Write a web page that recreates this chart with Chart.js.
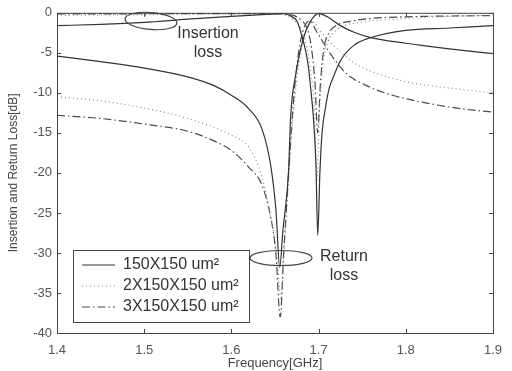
<!DOCTYPE html>
<html>
<head>
<meta charset="utf-8">
<script src="https://cdn.jsdelivr.net/npm/chart.js@4"></script>
<style>
  html, body { margin: 0; background: #fff; }
  #wrap { width: 512px; height: 371px; }
</style>
</head>
<body>
<div id="wrap"><canvas id="myChart"></canvas></div>
<script>
// legend names
var seriesNames = ["150X150 um²", "2X150X150 um²", "3X150X150 um²"];
var xTicks = [1.4, 1.5, 1.6, 1.7, 1.8, 1.9];
var yTicks = [0, -5, -10, -15, -20, -25, -30, -35, -40];

// 150X150 : curve with dip near 1.655 GHz
var freqA1 = [1.40, 1.45, 1.50, 1.55, 1.58, 1.60, 1.62, 1.635, 1.645, 1.651, 1.6555, 1.659, 1.6655, 1.668, 1.674, 1.682, 1.69, 1.70, 1.71, 1.725, 1.74, 1.76, 1.80, 1.82, 1.85, 1.90];
var lossA1 = [-5.4, -6.1, -6.9, -8.0, -9.1, -10.3, -12.0, -14.5, -19.0, -24.5, -31.8, -27.3, -19.9, -12.9, -7.6, -3.4, -1.2, -0.1, -0.5, -1.6, -2.4, -3.1, -3.8, -4.1, -4.5, -5.1];
// 150X150 : curve with dip near 1.70 GHz
var freqB1 = [1.40, 1.45, 1.50, 1.55, 1.60, 1.64, 1.66, 1.668, 1.676, 1.68, 1.684, 1.688, 1.691, 1.694, 1.697, 1.699, 1.7015, 1.704, 1.708, 1.712, 1.717, 1.725, 1.74, 1.76, 1.80, 1.85, 1.90];
var lossB1 = [-1.6, -1.45, -1.2, -0.8, -0.45, -0.2, -0.1, -0.4, -1.2, -2.6, -4.2, -6.5, -9.5, -13, -19, -27.8, -20, -15, -11.8, -9.5, -8.0, -6.0, -4.1, -3.1, -2.2, -1.9, -1.6];

// 2X150X150
var freqA2 = [1.40, 1.45, 1.50, 1.55, 1.60, 1.62, 1.635, 1.645, 1.652, 1.657, 1.661, 1.665, 1.67, 1.676, 1.682, 1.689, 1.695, 1.70, 1.71, 1.72, 1.74, 1.76, 1.80, 1.85, 1.90];
var lossA2 = [-10.5, -11.0, -11.9, -13.2, -15.3, -16.8, -20.5, -25.5, -30, -35.8, -29, -22, -14, -7.5, -3.5, -1.4, -1.2, -2.0, -3.3, -4.4, -6.2, -7.3, -8.6, -9.4, -10.0];
var freqB2 = [1.40, 1.50, 1.60, 1.65, 1.664, 1.672, 1.68, 1.686, 1.691, 1.6955, 1.698, 1.701, 1.705, 1.71, 1.72, 1.748, 1.80, 1.85, 1.90];
var lossB2 = [-0.3, -0.25, -0.15, -0.15, -0.4, -1.0, -2.0, -4.0, -7.5, -12.4, -21, -12.4, -6.5, -3.8, -2.2, -1.2, -0.7, -0.45, -0.3];

// 3X150X150
var freqA3 = [1.40, 1.45, 1.50, 1.55, 1.58, 1.60, 1.62, 1.635, 1.645, 1.651, 1.656, 1.66, 1.664, 1.668, 1.672, 1.677, 1.683, 1.69, 1.698, 1.706, 1.714, 1.732, 1.755, 1.785, 1.83, 1.865, 1.90];
var lossA3 = [-12.8, -13.2, -13.9, -14.8, -16.0, -17.2, -19.3, -21.5, -25.5, -30, -38, -30, -23, -16, -10, -5, -2, -1.0, -2.4, -3.8, -5.2, -7.6, -9.1, -10.3, -11.4, -12.0, -12.4];
var freqB3 = [1.40, 1.50, 1.60, 1.65, 1.67, 1.68, 1.687, 1.692, 1.696, 1.699, 1.702, 1.706, 1.712, 1.72, 1.74, 1.76, 1.80, 1.85, 1.90];
var lossB3 = [-0.15, -0.12, -0.1, -0.1, -0.3, -0.9, -2.0, -4.5, -9, -15, -9, -4.5, -2.5, -1.6, -1.0, -0.7, -0.5, -0.4, -0.35];

var lineColors = ["#333333", "#8a8a8a", "#4a4a4a"];
var lineDashes = [[], [1, 3], [8, 3, 1.5, 3]];

function pts(xs, ys) {
  return xs.map(function (x, i) { return { x: x, y: ys[i] }; });
}

function ds(xs, ys, k) {
  return {
    data: pts(xs, ys),
    borderColor: lineColors[k],
    borderDash: lineDashes[k],
    borderWidth: 1.2,
    pointRadius: 0,
    fill: false,
    cubicInterpolationMode: "monotone"
  };
}

// frame, inward ticks, legend box and the two callouts
var decor = {
  id: "decor",
  afterDraw: function (chart) {
    var c = chart.ctx, a = chart.chartArea;
    var sx = chart.scales.x, sy = chart.scales.y;
    c.save();
    c.strokeStyle = "#444";
    c.lineWidth = 1;
    c.setLineDash([]);
    c.strokeRect(a.left + 0.5, a.top + 0.5, a.right - a.left, a.bottom - a.top);
    c.beginPath();
    xTicks.forEach(function (t) {
      var px = Math.round(sx.getPixelForValue(t)) + 0.5;
      c.moveTo(px, a.bottom); c.lineTo(px, a.bottom - 4);
      c.moveTo(px, a.top); c.lineTo(px, a.top + 4);
    });
    yTicks.forEach(function (t) {
      var py = Math.round(sy.getPixelForValue(t)) + 0.5;
      c.moveTo(a.left, py); c.lineTo(a.left + 4, py);
      c.moveTo(a.right, py); c.lineTo(a.right - 4, py);
    });
    c.stroke();

    // legend
    var lx = a.left + 16, ly = 250, lw = 176, lh = 72;
    c.fillStyle = "#fff";
    c.fillRect(lx, ly, lw, lh);
    c.strokeStyle = "#444";
    c.strokeRect(lx + 0.5, ly + 0.5, lw, lh);
    c.font = "16px 'Liberation Sans', Arial, sans-serif";
    c.textBaseline = "middle";
    seriesNames.forEach(function (name, k) {
      var yy = ly + 15 + k * 21;
      c.beginPath();
      c.strokeStyle = lineColors[k];
      c.setLineDash(lineDashes[k]);
      c.lineWidth = 1.2;
      c.moveTo(lx + 9, yy); c.lineTo(lx + 42, yy);
      c.stroke();
      c.setLineDash([]);
      c.fillStyle = "#333";
      c.fillText(name, lx + 50, yy);
    });

    // callouts
    c.strokeStyle = "#444";
    c.lineWidth = 1.2;
    c.beginPath();
    c.ellipse(151, 21, 26, 8.5, 0.08, 0, Math.PI * 2);
    c.stroke();
    c.beginPath();
    c.ellipse(281, 258, 31, 7.5, 0, 0, Math.PI * 2);
    c.stroke();
    c.fillStyle = "#333";
    c.textAlign = "center";
    c.font = "16px 'Liberation Sans', Arial, sans-serif";
    c.fillText("Insertion", 208, 34);
    c.fillText("loss", 208, 53);
    c.fillText("Return", 344, 257);
    c.fillText("loss", 344, 276);
    c.restore();
  }
};

new Chart("myChart", {
  type: "line",
  data: {
    datasets: [
      ds(freqA1, lossA1, 0), ds(freqB1, lossB1, 0),
      ds(freqA2, lossA2, 1), ds(freqB2, lossB2, 1),
      ds(freqA3, lossA3, 2), ds(freqB3, lossB3, 2)
    ]
  },
  options: {
    responsive: true,
    maintainAspectRatio: false,
    animation: false,
    layout: { padding: { top: 10, right: 15, left: 0, bottom: 0 } },
    plugins: { legend: { display: false }, tooltip: { enabled: false } },
    scales: {
      x: {
        type: "linear",
        min: 1.4, max: 1.9,
        afterBuildTicks: function (s) { s.ticks = xTicks.map(function (v) { return { value: v }; }); },
        afterFit: function (s) { s.height = 38; },
        grid: { display: false, drawTicks: false },
        border: { display: false },
        ticks: {
          color: "#555", padding: 10,
          font: { family: "'Liberation Sans', Arial, sans-serif", size: 13 },
          callback: function (v) { return v.toFixed(1); }
        },
        title: {
          display: true, text: "Frequency[GHz]", color: "#444",
          font: { family: "'Liberation Sans', Arial, sans-serif", size: 13 },
          padding: { top: 0, bottom: 0 }
        }
      },
      y: {
        min: -40, max: 0,
        afterBuildTicks: function (s) { s.ticks = yTicks.map(function (v) { return { value: v }; }); },
        afterFit: function (s) { s.width = 57; },
        grid: { display: false, drawTicks: false },
        border: { display: false },
        ticks: {
          color: "#555", padding: 5,
          font: { family: "'Liberation Sans', Arial, sans-serif", size: 13 }
        },
        title: {
          display: true, text: "Insertion and Return Loss[dB]", color: "#444",
          font: { family: "'Liberation Sans', Arial, sans-serif", size: 12 },
          padding: { top: 6, bottom: 0 }
        }
      }
    }
  },
  plugins: [decor]
});
</script>
</body>
</html>
